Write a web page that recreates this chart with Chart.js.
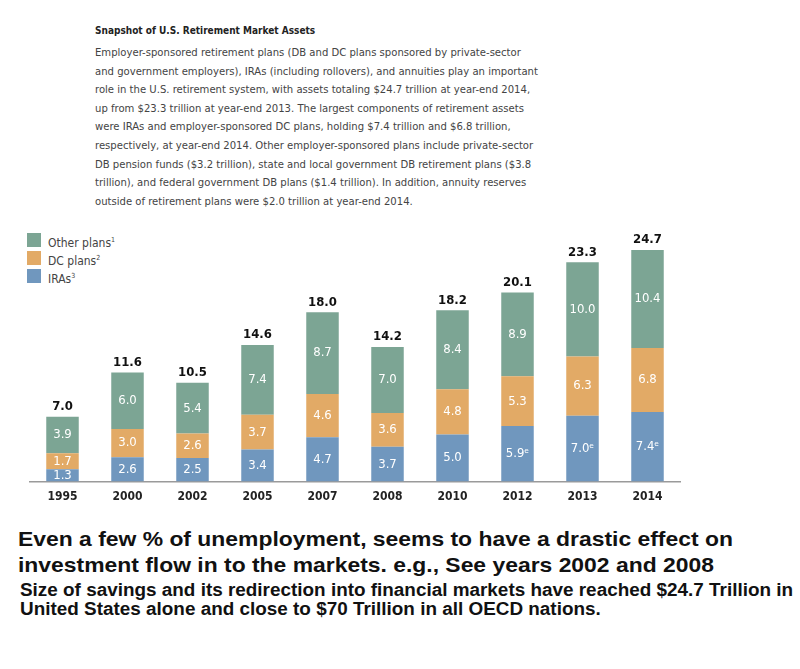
<!DOCTYPE html>
<html>
<head>
  <title>Snapshot of U.S. Retirement Market Assets</title>
  <script src="https://cdn.jsdelivr.net/npm/chart.js"></script>
  <style>
    body {
      margin: 0;
      padding: 0;
      background: #fff;
      width: 800px;
      height: 669px;
      position: relative;
      overflow: hidden;
    }
    #head {
      position: absolute;
      left: 95px;
      top: 25px;
      font-family: "DejaVu Sans Condensed", "DejaVu Sans", sans-serif;
      color: #333;
    }
    #head h1 {
      font-size: 10px;
      font-weight: bold;
      margin: 0 0 8px 0;
      color: #222;
    }
    #head p {
      font-size: 11.2px;
      line-height: 18.6px;
      margin: 0;
      white-space: pre-line;
      color: #444;
    }
    #legend {
      position: absolute;
      left: 27px;
      top: 233px;
      font-family: "DejaVu Sans Condensed", "DejaVu Sans", sans-serif;
      font-size: 12px;
      color: #444;
    }
    #legend div {
      height: 18px;
      line-height: 14px;
    }
    #legend span.box {
      display: inline-block;
      width: 14px;
      height: 14px;
      vertical-align: top;
      margin-right: 7px;
    }
    #legend sup { font-size: 7px; }
    #chart-container {
      position: absolute;
      left: 0;
      top: 219px;
      width: 800px;
      height: 285px;
    }
    .note {
      position: absolute;
      font-family: "Liberation Sans", Arial, sans-serif;
      font-weight: bold;
      color: #111;
      white-space: nowrap;
      transform-origin: left top;
    }
    #note1 {
      left: 18px;
      top: 526px;
      font-size: 21px;
      line-height: 26px;
      transform: scaleX(1.09);
    }
    #note2 {
      left: 20px;
      top: 581px;
      font-size: 18px;
      line-height: 19px;
      transform: scaleX(1.05);
    }
  </style>
</head>
<body>

  <div id="head">
    <h1>Snapshot of U.S. Retirement Market Assets</h1>
    <p>Employer-sponsored retirement plans (DB and DC plans sponsored by private-sector
and government employers), IRAs (including rollovers), and annuities play an important
role in the U.S. retirement system, with assets totaling $24.7 trillion at year-end 2014,
up from $23.3 trillion at year-end 2013. The largest components of retirement assets
were IRAs and employer-sponsored DC plans, holding $7.4 trillion and $6.8 trillion,
respectively, at year-end 2014. Other employer-sponsored plans include private-sector
DB pension funds ($3.2 trillion), state and local government DB retirement plans ($3.8
trillion), and federal government DB plans ($1.4 trillion). In addition, annuity reserves
outside of retirement plans were $2.0 trillion at year-end 2014.</p>
  </div>

  <div id="legend"></div>

  <div id="chart-container">
    <canvas id="myChart" width="800" height="285"></canvas>
  </div>

  <div class="note" id="note1">Even a few % of unemployment, seems to have a drastic effect on<br>investment flow in to the markets. e.g., See years 2002 and 2008</div>
  <div class="note" id="note2">Size of savings and its redirection into financial markets have reached $24.7 Trillion in<br>United States alone and close to $70 Trillion in all OECD nations.</div>

  <script>
    // data (trillions of dollars)
    const years = ['1995', '2000', '2002', '2005', '2007', '2008', '2010', '2012', '2013', '2014'];
    const iras = [1.3, 2.6, 2.5, 3.4, 4.7, 3.7, 5.0, 5.9, 7.0, 7.4];
    const dcPlans = [1.7, 3.0, 2.6, 3.7, 4.6, 3.6, 4.8, 5.3, 6.3, 6.8];
    const otherPlans = [3.9, 6.0, 5.4, 7.4, 8.7, 7.0, 8.4, 8.9, 10.0, 10.4];
    const totals = [7.0, 11.6, 10.5, 14.6, 18.0, 14.2, 18.2, 20.1, 23.3, 24.7];
    const iraEstimated = [false, false, false, false, false, false, false, true, true, true];

    const colGreen = '#7ca594';
    const colOrange = '#e2aa66';
    const colBlue = '#7097be';

    // legend
    const legendItems = [
      ['Other plans', '1', colGreen],
      ['DC plans', '2', colOrange],
      ['IRAs', '3', colBlue]
    ];
    document.getElementById('legend').innerHTML = legendItems.map(function (it) {
      return '<div><span class="box" style="background:' + it[2] + '"></span>' + it[0] + '<sup>' + it[1] + '</sup></div>';
    }).join('');

    const labelFont = '13px "DejaVu Sans Condensed", "DejaVu Sans", sans-serif';
    const totalFont = 'bold 13px "DejaVu Sans Condensed", "DejaVu Sans", sans-serif';

    // draws the numbers inside the bars and the totals on top
    const barLabels = {
      id: 'barLabels',
      afterDatasetsDraw(chart) {
        const c = chart.ctx;
        const last = chart.data.datasets.length - 1;
        c.save();
        c.textAlign = 'center';
        c.textBaseline = 'middle';
        chart.data.datasets.forEach(function (ds, di) {
          const meta = chart.getDatasetMeta(di);
          meta.data.forEach(function (bar, i) {
            let txt = ds.data[i].toFixed(1);
            if (di === 0 && iraEstimated[i]) txt += 'ᵉ';
            c.font = labelFont;
            c.fillStyle = '#fff';
            c.fillText(txt, bar.x, (bar.y + bar.base) / 2);
            if (di === last) {
              c.fillStyle = '#111';
              c.font = totalFont;
              c.fillText(totals[i].toFixed(1), bar.x, bar.y - 10);
            }
          });
        });
        c.restore();
      }
    };

    const ctx = document.getElementById('myChart').getContext('2d');
    const chart = new Chart(ctx, {
      type: 'bar',
      data: {
        labels: years,
        datasets: [
          { label: 'IRAs', data: iras, backgroundColor: colBlue },
          { label: 'DC plans', data: dcPlans, backgroundColor: colOrange },
          { label: 'Other plans', data: otherPlans, backgroundColor: colGreen }
        ]
      },
      options: {
        responsive: false,
        animation: false,
        layout: { padding: { left: 30, right: 120, top: 0, bottom: 0 } },
        datasets: {
          bar: { categoryPercentage: 1, barPercentage: 0.5 }
        },
        plugins: {
          legend: { display: false },
          tooltip: { enabled: false }
        },
        scales: {
          x: {
            stacked: true,
            grid: { display: false },
            border: { color: '#9a9a9a', width: 1.5 },
            ticks: {
              color: '#222',
              padding: 0,
              font: { family: '"DejaVu Sans Condensed", "DejaVu Sans", sans-serif', size: 12, weight: 'bold' }
            }
          },
          y: {
            stacked: true,
            display: false,
            min: 0,
            max: 27.9
          }
        }
      },
      plugins: [barLabels]
    });
  </script>

</body>
</html>
